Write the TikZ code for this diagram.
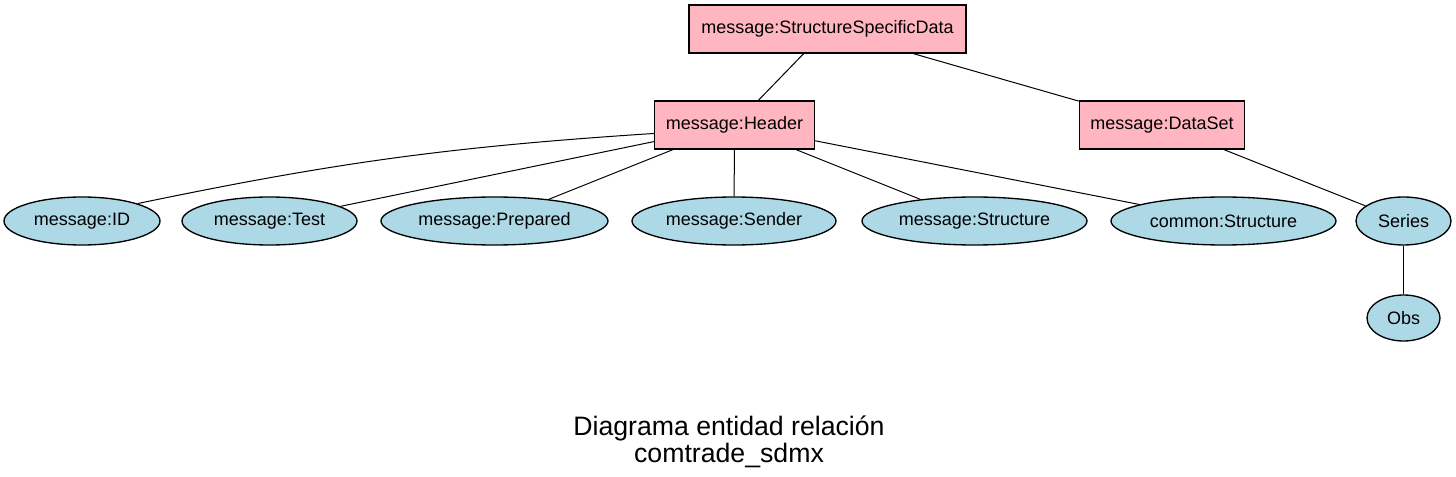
\documentclass[tikz,border=0pt]{standalone}
\usepackage{fontspec}
\setmainfont{Liberation Sans}

\definecolor{entpink}{RGB}{255,182,193}
\definecolor{attblue}{RGB}{173,216,230}

\tikzset{every picture/.style={line width=0.75pt}}
\tikzset{
  entity/.style={draw, fill=entpink, line width=1pt, rectangle, inner sep=0pt,
    minimum height=36pt, font=\fontsize{13.5}{16}\selectfont},
  attrib/.style={draw, fill=attblue, line width=1pt, ellipse, inner sep=0pt,
    minimum height=36pt, font=\fontsize{13.5}{16}\selectfont},
  link/.style={draw, line width=0.75pt}
}

\usetikzlibrary{shapes.geometric}

\begin{document}
\begin{tikzpicture}[x=0.75pt,y=0.75pt,yscale=-1,xscale=1]
\useasboundingbox (0,0) rectangle (1456,477);

% Entities
\node (ssd) at (827.5,29) [entity, minimum width=207.75pt] {message:StructureSpecificData};
\node (hdr) at (734.5,125) [entity, minimum width=120pt] {message:Header};
\node (dset) at (1162,125) [entity, minimum width=123.75pt] {message:DataSet};

% Attributes
\node (id) at (82,221) [attrib, minimum width=117pt] {message:ID};
\node (test) at (269.5,221) [attrib, minimum width=131.25pt] {message:Test};
\node (prep) at (494.5,221) [attrib, minimum width=170.25pt] {message:Prepared};
\node (send) at (734,221) [attrib, minimum width=153pt] {message:Sender};
\node (mstruct) at (974.5,221) [attrib, minimum width=168.75pt] {message:Structure};
\node (cstruct) at (1223.5,221) [attrib, minimum width=168.75pt] {common:Structure};
\node (series) at (1403.5,221) [attrib, minimum width=71.25pt] {Series};
\node (obs) at (1403.5,318) [attrib, minimum width=54.75pt, minimum height=34.5pt] {Obs};

% Links
\draw [link] (ssd) -- (hdr);
\draw [link] (ssd) -- (dset);
\draw [link] (hdr.186) to[bend left=4] (id.north east);
\draw [link] (hdr) -- (test);
\draw [link] (hdr) -- (prep);
\draw [link] (hdr) -- (send);
\draw [link] (hdr) -- (mstruct);
\draw [link] (hdr) -- (cstruct);
\draw [link] (dset) -- (series);
\draw [link] (series) -- (obs);

% Title
\node (title) at (729,441.5) [align=center, inner sep=0pt, font=\fontsize{20}{20.25}\selectfont] {Diagrama entidad relación\\comtrade\_sdmx};
\end{tikzpicture}
\end{document}
